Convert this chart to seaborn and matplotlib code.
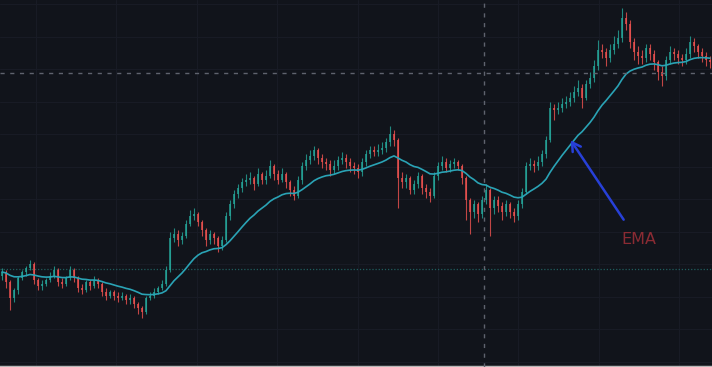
import numpy as np
import pandas as pd
import matplotlib
matplotlib.use("Agg")
import matplotlib.pyplot as plt
import seaborn as sns

# candle data (one candle per slot)
closes = [64, 59, 51, 55, 61, 64, 66, 68, 60, 57, 58, 60, 62, 65, 59, 58, 61, 65, 61, 56,
          55, 59, 57, 60, 58, 54, 52, 54, 52, 51, 52, 50, 51, 48, 46, 44, 51, 52, 54, 56,
          58, 65, 81, 83, 80, 82, 88, 92, 93, 89, 85, 80, 83, 81, 77, 80, 92, 98, 103, 106,
          109, 110, 111, 108, 113, 110, 112, 117, 113, 110, 113, 109, 105, 102, 110, 117, 120, 122, 125, 121,
          119, 118, 115, 117, 120, 121, 119, 117, 116, 114, 119, 123, 125, 124, 125, 126, 129, 133, 130, 111,
          109, 111, 105, 108, 112, 106, 104, 102, 112, 117, 119, 116, 118, 119, 117, 111, 100, 94, 98, 93,
          100, 105, 96, 100, 97, 94, 98, 94, 92, 98, 104, 117, 118, 117, 119, 123, 130, 146, 145, 146,
          148, 149, 151, 154, 156, 151, 158, 161, 167, 175, 174, 171, 175, 178, 181, 191, 188, 179, 174, 172,
          171, 176, 173, 169, 164, 162, 170, 174, 173, 171, 170, 173, 179, 177, 174, 172, 170, 169]
first_open = 62
highs = [66, 65, 60, 56, 62, 65, 67, 70, 69, 61, 60, 61, 64, 67, 66, 61, 62, 67, 66, 62,
         58, 60, 60, 62, 61, 59, 56, 55, 55, 54, 54, 53, 53, 52, 49, 47, 52, 54, 56, 57,
         60, 67, 84, 86, 85, 84, 90, 95, 96, 94, 90, 86, 85, 84, 82, 82, 94, 100, 105, 108,
         111, 113, 114, 112, 116, 114, 115, 120, 118, 115, 116, 114, 110, 107, 112, 119, 123, 125, 127, 126,
         123, 121, 120, 120, 122, 124, 123, 121, 119, 118, 121, 125, 127, 127, 128, 129, 131, 137, 135, 131,
         114, 113, 112, 110, 114, 113, 108, 106, 114, 119, 122, 121, 120, 121, 120, 118, 112, 101, 100, 99,
         102, 108, 106, 102, 102, 99, 100, 99, 96, 100, 106, 119, 121, 120, 122, 125, 132, 149, 148, 149,
         151, 152, 154, 157, 160, 158, 160, 164, 170, 180, 178, 176, 178, 182, 185, 196, 194, 190, 181, 177,
         175, 178, 178, 175, 170, 167, 172, 177, 176, 175, 173, 176, 182, 181, 178, 176, 174, 172]
lows = [60, 56, 45, 49, 53, 60, 62, 65, 58, 55, 55, 57, 59, 61, 57, 56, 57, 60, 59, 54,
        53, 54, 55, 56, 56, 52, 50, 51, 50, 49, 50, 48, 48, 46, 43, 41, 43, 50, 51, 53,
        55, 57, 64, 79, 77, 78, 81, 87, 90, 87, 82, 77, 78, 78, 74, 75, 79, 90, 96, 101,
        104, 107, 108, 105, 107, 108, 108, 111, 110, 108, 109, 106, 102, 100, 101, 108, 115, 118, 120, 118,
        116, 115, 112, 113, 115, 118, 116, 114, 113, 111, 112, 117, 121, 122, 122, 123, 124, 127, 127, 96,
        106, 106, 103, 103, 106, 103, 101, 99, 101, 110, 115, 114, 114, 116, 115, 108, 90, 83, 91, 89,
        91, 98, 82, 93, 94, 90, 92, 91, 89, 90, 96, 103, 115, 114, 115, 117, 121, 129, 140, 143,
        144, 146, 147, 149, 152, 146, 150, 156, 159, 165, 171, 167, 169, 173, 176, 179, 185, 176, 170, 168,
        168, 169, 170, 165, 160, 157, 160, 168, 170, 168, 167, 168, 171, 174, 171, 169, 167, 166]

ema_span = 20
last_price = 65.5
cross_x, cross_y = 120.5, 163.5

df = pd.DataFrame({"close": closes, "high": highs, "low": lows})
df["open"] = [first_open] + closes[:-1]
df["i"] = np.arange(len(df))
df["ema"] = df["close"].ewm(span=ema_span, adjust=False).mean()
up = df["close"] >= df["open"]

bg = "#11141b"
up_col = "#26a69a"
dn_col = "#ef5350"

sns.set_style("dark", {"axes.facecolor": bg, "figure.facecolor": bg})
fig, ax = plt.subplots(figsize=(7.12, 3.67), dpi=100)
fig.subplots_adjust(0, 0, 1, 1)

# grid (very faint)
for gx in np.arange(8.5, 178, 20.1):
    ax.axvline(gx, color="#181b25", lw=0.8, zorder=0)
for gy in np.arange(198, 0, -16.25):
    ax.axhline(gy, color="#181b25", lw=0.8, zorder=0)

# candles
cols = np.where(up, up_col, dn_col)
ax.vlines(df["i"], df["low"], df["high"], colors=cols, lw=0.8, alpha=0.8, zorder=2)
ax.bar(df["i"], (df["close"] - df["open"]).abs().clip(lower=0.4),
       bottom=df[["open", "close"]].min(axis=1), width=0.65, color=cols,
       alpha=0.75, linewidth=0, zorder=3)

sns.lineplot(data=df, x="i", y="ema", color="#2aa3b5", lw=1.2, ax=ax, zorder=4)

# last price line and crosshair
ax.axhline(last_price, color="#2a8f8a", lw=0.9, ls=(0, (1, 1.5)), alpha=0.6, zorder=1)
ax.axvline(cross_x, color="#5f636e", lw=1, ls=(0, (3, 4)), zorder=5)
ax.axhline(cross_y, color="#5f636e", lw=1, ls=(0, (3, 4)), zorder=5)

ax.annotate("", xy=(141.8, 131), xytext=(155.8, 89),
            arrowprops=dict(arrowstyle="->,head_length=0.6,head_width=0.35",
                            color="#2740d8", lw=1.8), zorder=6)
ax.text(159.3, 80, "EMA", color="#8b2b33", fontsize=11.5, ha="center", va="center",
        fontfamily="DejaVu Sans", zorder=6)

ax.set_xlim(-0.5, 177.5)
ax.set_ylim(16.5, 200)
ax.set_xlabel("")
ax.set_ylabel("")
ax.set_xticks([])
ax.set_yticks([])
for s in ["top", "left", "right"]:
    ax.spines[s].set_visible(False)
ax.spines["bottom"].set_color("#b8b8b8")
ax.spines["bottom"].set_linewidth(2.5)

fig.savefig("out.png", dpi=100, facecolor=bg)
